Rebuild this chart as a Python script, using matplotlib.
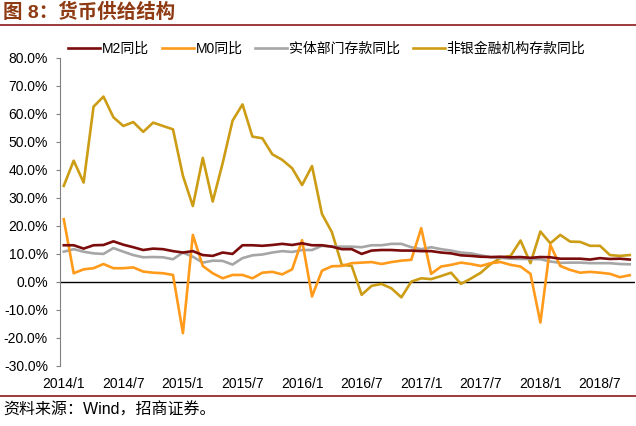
import matplotlib
matplotlib.use("Agg")
import matplotlib.pyplot as plt
import numpy as np

plt.rcParams['font.family'] = ['Liberation Sans', 'Noto Sans CJK SC', 'DejaVu Sans']

# monthly data, 2014/1 .. 2018/10 (%)
m2 = [13.1, 13.1, 11.9, 13.1, 13.2, 14.5, 13.3, 12.4, 11.4, 11.9, 11.7, 11.0,
      10.5, 11.0, 9.6, 9.3, 10.5, 10.0, 13.1, 13.1, 12.9, 13.2, 13.6, 13.2,
      13.8, 13.1, 13.1, 12.6, 11.7, 11.7, 10.0, 11.2, 11.4, 11.4, 11.2, 11.2,
      11.0, 11.0, 10.5, 10.2, 9.5, 9.3, 9.0, 8.9, 9.0, 8.8, 8.9, 8.6,
      8.9, 8.8, 8.3, 8.3, 8.3, 8.0, 8.5, 8.2, 8.3, 8.0]
m0 = [22.4, 3.1, 4.5, 4.9, 6.4, 4.9, 4.9, 5.2, 3.7, 3.3, 3.1, 2.5,
      -18.3, 16.8, 5.7, 3.1, 1.3, 2.5, 2.5, 1.3, 3.3, 3.6, 2.7, 4.5,
      14.9, -5.2, 4.0, 5.6, 5.7, 6.7, 6.9, 7.1, 6.4, 7.1, 7.6, 7.9,
      19.2, 2.9, 5.5, 6.1, 6.9, 6.4, 5.7, 6.7, 7.1, 6.1, 5.5, 2.9,
      -14.5, 13.2, 5.7, 4.3, 3.3, 3.6, 3.3, 2.9, 1.7, 2.4]
real_dep = [10.8, 11.7, 10.8, 10.2, 10.0, 12.1, 10.8, 9.6, 8.8, 8.9, 8.8, 8.1,
            10.5, 9.0, 6.9, 7.6, 7.5, 6.2, 8.5, 9.5, 9.8, 10.5, 11.0, 10.7,
            11.4, 11.4, 12.9, 12.6, 12.6, 12.6, 12.4, 13.1, 13.1, 13.6, 13.6, 12.4,
            11.7, 12.4, 11.7, 11.2, 10.5, 10.2, 9.5, 8.8, 8.6, 8.3, 8.2, 8.2,
            8.1, 7.3, 6.8, 6.9, 6.9, 6.7, 6.7, 6.7, 6.4, 6.3]
nonbank = [34.3, 43.3, 35.5, 62.6, 66.2, 58.8, 55.7, 57.1, 53.6, 56.9, 55.7, 54.5,
           37.9, 27.1, 44.3, 28.7, 42.4, 57.6, 63.4, 51.9, 51.3, 45.6, 43.6, 40.6,
           34.6, 41.4, 24.3, 17.8, 6.1, 5.7, -4.6, -1.4, -0.7, -2.3, -5.5, 0.1,
           1.3, 1.0, 2.1, 3.3, -0.7, 1.2, 3.3, 6.4, 8.6, 9.3, 14.8, 6.7,
           18.0, 13.8, 16.8, 14.4, 14.3, 12.9, 12.9, 9.6, 9.3, 9.6]

x = np.arange(len(m2))
tick_pos = list(range(0, len(m2), 6))
tick_labels = ['2014/1', '2014/7', '2015/1', '2015/7', '2016/1',
               '2016/7', '2017/1', '2017/7', '2018/1', '2018/7']

fig = plt.figure(figsize=(6.36, 4.26), dpi=100)
ax = fig.add_axes([0.094, 0.141, 0.904, 0.723])

ax.plot(x, m2, color='#7b0c0c', lw=1.9, label='M2同比', zorder=5)
ax.plot(x, m0, color='#ff9a1a', lw=1.9, label='M0同比', zorder=4)
ax.plot(x, real_dep, color='#a6a6a6', lw=1.9, label='实体部门存款同比', zorder=3)
ax.plot(x, nonbank, color='#cc9d14', lw=1.9, label='非银金融机构存款同比', zorder=2)
ax.axhline(0, color='black', lw=1.0, zorder=1)

ax.set_xlim(-0.4, 57.5)
ax.set_ylim(-30, 80)
ax.set_yticks(np.arange(-30, 81, 10))
ax.set_yticklabels(['%.1f%%' % v for v in np.arange(-30, 81, 10)], fontsize=10)
ax.set_xticks(tick_pos)
ax.set_xticklabels(tick_labels, fontsize=10)
ax.tick_params(axis='x', length=0, pad=8)
ax.tick_params(axis='y', length=3, width=0.8, color='#808080', pad=5.5)
for s in ['top', 'right', 'bottom']:
    ax.spines[s].set_visible(False)
ax.spines['left'].set_color('#808080')

ax.legend(loc='center left', bbox_to_anchor=(68 / 636, 1 - 49 / 426),
          bbox_transform=fig.transFigure, ncol=4, frameon=False,
          fontsize=10, handlelength=2.3, handletextpad=0.15, columnspacing=0.9,
          borderpad=0, borderaxespad=0)

# title and source
fig.text(0.005, 0.97, '图 8：货币供给结构', fontsize=14, fontweight='bold',
         color='#8e3a12', ha='left', va='center')
fig.add_artist(plt.Line2D([0, 1], [0.941, 0.941], color='#8b1a1a', lw=1.2))
fig.add_artist(plt.Line2D([0, 1], [0.071, 0.071], color='#8b1a1a', lw=1.2))
fig.text(0.005, 0.037, '资料来源：Wind，招商证券。', fontsize=11.5, color='black',
         ha='left', va='center')

fig.savefig('out.png', dpi=100)
